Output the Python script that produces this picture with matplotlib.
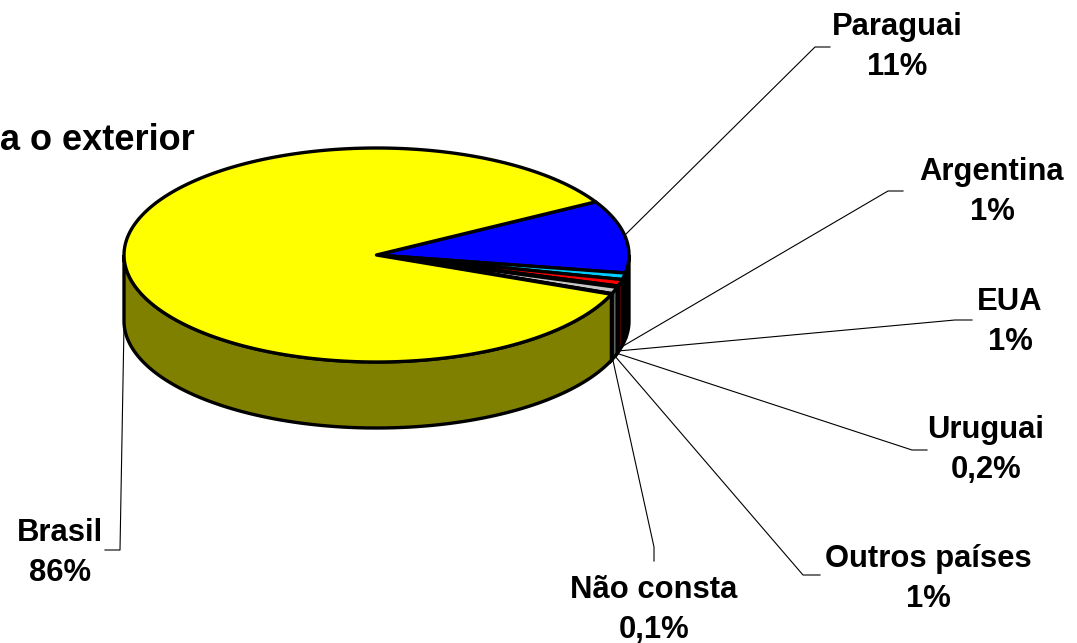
'''
Recreate a 3D-look pie chart of destinations abroad, drawn in pixel coordinates.
'''

import matplotlib.pyplot as plt
import numpy as np
from matplotlib.patches import Polygon

# Data, clockwise starting from the Paraguai slice
categories = ['Paraguai', 'Argentina', 'EUA', 'Uruguai', 'Outros países',
              'Não consta', 'Brasil']
values = [11, 1, 1, 0.2, 1, 0.1, 86]
value_labels = ['11%', '1%', '1%', '0,2%', '1%', '0,1%', '86%']
title_text = 'a o exterior'

top_colors = ['#0000FF', '#00CCFF', '#FF0000', '#000080', '#C8C8C8',
              '#FFFFFF', '#FFFF00']
side_colors = ['#000080', '#006680', '#800000', '#000040', '#606060',
               '#808080', '#808000']

# Pie geometry in pixels
CX, CY = 376.5, 255
RX, RY = 252.5, 107
DEPTH = 66
START_ANGLE = 29.8
LW = 2.4

# Leader lines and label centres in pixels
leaders = [
    [(624, 236), (815, 47), (830, 47)],
    [(618, 349), (888, 191), (903, 191)],
    [(618, 351), (955, 320), (972, 320)],
    [(616, 353), (912, 450), (927, 450)],
    [(614, 355), (803, 575), (820, 575)],
    [(612, 356), (654, 547), (654, 561)],
    [(124, 325), (120, 550), (105, 550)],
]
label_pos = [(897, 47), (992, 192), (1010, 322), (986, 450), (928, 579),
             (654, 610), (60, 553)]


def arc(start, end, dy=0.0, n=200):
    '''Points along the ellipse between two angles, shifted down by dy.'''
    t = np.radians(np.linspace(start, end, n))
    return np.column_stack((CX + RX * np.cos(t), CY - RY * np.sin(t) + dy))


def main() -> None:
    '''
    Draw the side wall, top slices, leader lines and labels.
    '''
    fig = plt.figure(figsize=(10.77, 6.43), dpi=100)
    ax = fig.add_axes([0, 0, 1, 1])
    ax.set_xlim(0, 1077)
    ax.set_ylim(643, 0)
    ax.axis('off')

    plt.rcParams['font.family'] = ['Liberation Sans', 'DejaVu Sans']

    sweeps = np.array(values) / sum(values) * 360
    ends = START_ANGLE - np.cumsum(sweeps)
    starts = ends + sweeps

    # Side wall: only the part of each slice on the front half shows
    for a0, a1, color in zip(starts, ends, side_colors):
        lo = max(a1, -180)
        hi = min(a0, 0)
        if hi > lo:
            pts = np.vstack((arc(hi, lo), arc(lo, hi, DEPTH)))
            ax.add_patch(Polygon(pts, facecolor=color, edgecolor='black',
                                 linewidth=LW, zorder=2))

    # Top face
    for a0, a1, color in zip(starts, ends, top_colors):
        pts = np.vstack(([CX, CY], arc(a0, a1)))
        ax.add_patch(Polygon(pts, facecolor=color, edgecolor='black',
                             linewidth=LW, joinstyle='round', zorder=3))

    # Leader lines
    for points in leaders:
        xs, ys = zip(*points)
        ax.plot(xs, ys, color='black', linewidth=0.8, zorder=1)

    # Labels
    for (x, y), name, label in zip(label_pos, categories, value_labels):
        ax.text(x, y, f'{name}\n{label}', ha='center', va='center',
                fontsize=22.3, fontweight='bold', linespacing=1.41, zorder=4)

    ax.text(195, 141, title_text, ha='right', va='center', fontsize=26,
            fontweight='bold', zorder=4)

    fig.savefig('out.png', dpi=100)
    plt.close(fig)


if __name__ == "__main__":
    main()
